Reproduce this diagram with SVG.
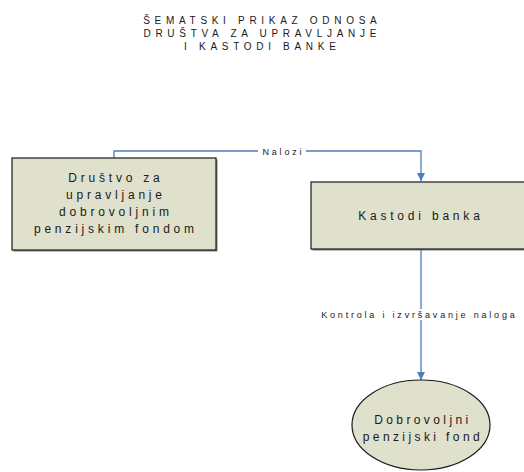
<svg xmlns="http://www.w3.org/2000/svg" width="524" height="472" viewBox="0 0 524 472">
<defs>
<style>
.t{font-family:"Liberation Sans",Arial,sans-serif;fill:#1a1a1a;text-anchor:middle}
.title{font-size:10px;letter-spacing:4.7px}
.node{font-size:12px;letter-spacing:3.8px}
.lbl{font-size:9px;letter-spacing:2.8px}
.shape{fill:#dfe1cc;stroke:#1a1a1a;stroke-width:1.2}
.shadow{fill:#7f7f7f}
.conn{fill:none;stroke:#4a7ebb;stroke-width:1.3}
</style>
<marker id="arr" viewBox="0 0 10 10" refX="10" refY="5" markerWidth="9" markerHeight="8" markerUnits="userSpaceOnUse" orient="auto">
<path d="M0,0 L10,5 L0,10 z" fill="#4a7ebb"/>
</marker>
</defs>
<rect width="524" height="472" fill="#ffffff"/>
<g id="title">
<text class="t title" x="262.3" y="24">ŠEMATSKI PRIKAZ ODNOSA</text>
<text class="t title" x="262.3" y="37">DRUŠTVA ZA UPRAVLJANJE</text>
<text class="t title" x="262.3" y="50">I KASTODI BANKE</text>
</g>
<g id="connectors">
<path class="conn" d="M114,158 V151 H421 V181" marker-end="url(#arr)"/>
<rect x="258" y="146" width="48" height="10" fill="#ffffff"/>
<text class="t lbl" x="283.4" y="154.5">Nalozi</text>
<path class="conn" d="M421,250 V380" marker-end="url(#arr)"/>
<rect x="320" y="309" width="196" height="11" fill="#ffffff"/>
<text class="t lbl" x="419.4" y="318">Kontrola i izvršavanje naloga</text>
</g>
<g id="drustvo">
<rect class="shadow" x="13.5" y="159.5" width="204" height="92"/>
<rect class="shape" x="12" y="158" width="204" height="92"/>
<text class="t node" x="115.9" y="182">Društvo za</text>
<text class="t node" x="115.9" y="199">upravljanje</text>
<text class="t node" x="115.9" y="216">dobrovoljnim</text>
<text class="t node" x="115.9" y="233">penzijskim fondom</text>
</g>
<g id="kastodi">
<rect class="shadow" x="312.5" y="183.5" width="220" height="67"/>
<rect class="shape" x="311" y="182" width="220" height="67"/>
<text class="t node" x="420.9" y="220">Kastodi banka</text>
</g>
<g id="fond">
<ellipse class="shape" cx="421" cy="425" rx="69" ry="45"/>
<text class="t node" x="422.9" y="424" style="letter-spacing:3.4px">Dobrovoljni</text>
<text class="t node" x="422.9" y="441" style="letter-spacing:3.4px">penzijski fond</text>
</g>
</svg>
